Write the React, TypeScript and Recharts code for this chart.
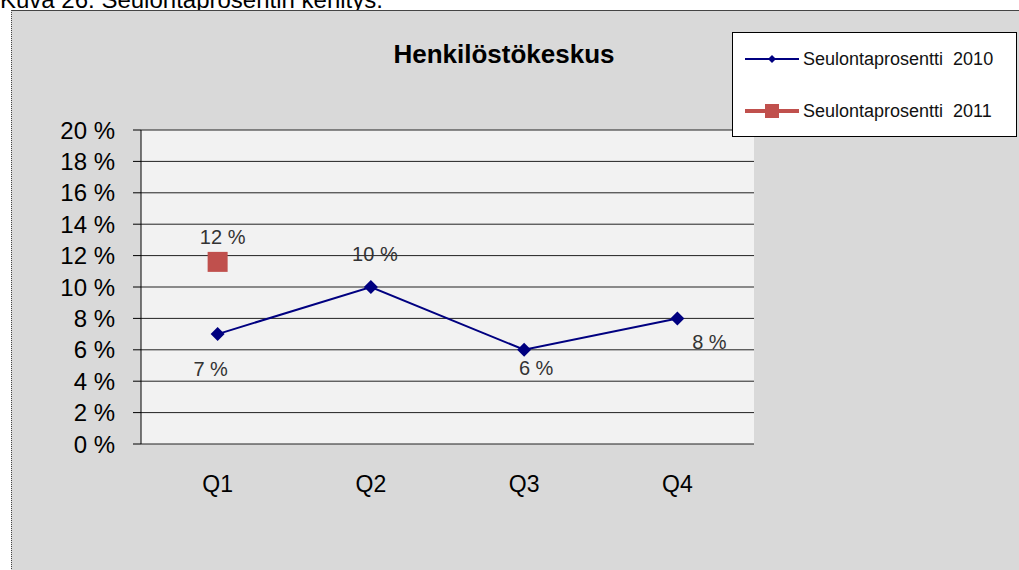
import React from 'react';
import { LineChart, Line, XAxis, YAxis, CartesianGrid, Legend, LabelList } from 'recharts';

const QUARTERS = ['Q1', 'Q2', 'Q3', 'Q4'];
const RATE_2010 = [7, 10, 6, 8];
const RATE_2011: (number | null)[] = [11.6, null, null, null];
const Y_TICKS = [0, 2, 4, 6, 8, 10, 12, 14, 16, 18, 20];

const NAME_2010 = 'Seulontaprosentti  2010';
const NAME_2011 = 'Seulontaprosentti  2011';

const COLOR_2010 = '#000080';
const COLOR_2011 = '#c0504d';
const FONT = '"Liberation Sans", Arial, sans-serif';

// where each value label sits relative to its point
const LABEL_SHIFT_2010 = [
  { dx: -7, dy: 35 },
  { dx: 4, dy: -33 },
  { dx: 12, dy: 18 },
  { dx: 32, dy: 24 },
];
const LABEL_SHIFT_2011 = [{ dx: 5, dy: -25 }];

const chartData = QUARTERS.map((quarter, i) => ({
  quarter,
  y2010: RATE_2010[i],
  y2011: RATE_2011[i],
}));

const edgeTicks = QUARTERS.map((_, i) => i).concat(QUARTERS.length);

const fmtPct = (v: number) => `${Math.round(v)} %`;

function makeLabel(shifts: { dx: number; dy: number }[]) {
  return (props: any) => {
    const { x, y, value, index } = props;
    if (value == null || x == null || y == null) return null;
    const s = shifts[index] || { dx: 0, dy: -20 };
    return (
      <text
        x={Number(x) + s.dx}
        y={Number(y) + s.dy}
        textAnchor="middle"
        dominantBaseline="central"
        fontSize={20}
        fontFamily={FONT}
        fill="#333"
      >
        {fmtPct(Number(value))}
      </text>
    );
  };
}

const DiamondDot = (props: any) => {
  const { cx, cy, index } = props;
  if (cx == null || cy == null) return <g key={`d-${index}`} />;
  const r = 7;
  return (
    <path
      key={`d-${index}`}
      d={`M${cx},${cy - r}L${cx + r},${cy}L${cx},${cy + r}L${cx - r},${cy}Z`}
      fill={COLOR_2010}
    />
  );
};

const SquareDot = (props: any) => {
  const { cx, cy, index } = props;
  if (cx == null || cy == null) return <g key={`s-${index}`} />;
  const h = 10;
  return <rect key={`s-${index}`} x={cx - h} y={cy - h} width={h * 2} height={h * 2} fill={COLOR_2011} />;
};

const LegendBox = () => (
  <div
    style={{
      width: 285,
      height: 105,
      boxSizing: 'border-box',
      border: '1px solid #000',
      background: '#fff',
      position: 'relative',
      fontFamily: FONT,
      fontSize: 18,
      color: '#111',
    }}
  >
    {[
      { name: NAME_2010, color: COLOR_2010, width: 2, marker: 'diamond', cy: 26 },
      { name: NAME_2011, color: COLOR_2011, width: 4, marker: 'square', cy: 78 },
    ].map((item) => (
      <div key={item.name} style={{ position: 'absolute', left: 0, top: item.cy - 12, height: 24, width: '100%' }}>
        <svg width={70} height={24} style={{ position: 'absolute', left: 10, top: 0 }}>
          <line x1={2} y1={12} x2={56} y2={12} stroke={item.color} strokeWidth={item.width} />
          {item.marker === 'diamond' ? (
            <path d="M29,8L33,12L29,16L25,12Z" fill={item.color} />
          ) : (
            <rect x={22} y={5} width={14} height={14} fill={item.color} />
          )}
        </svg>
        <span style={{ position: 'absolute', left: 70, top: 0, lineHeight: '24px', whiteSpace: 'pre' }}>{item.name}</span>
      </div>
    ))}
  </div>
);

export default function App() {
  return (
    <div
      style={{
        position: 'absolute',
        left: 0,
        top: 0,
        width: 1019,
        height: 570,
        overflow: 'hidden',
        background: '#fff',
        fontFamily: FONT,
      }}
    >
      <div
        style={{
          position: 'absolute',
          left: 0,
          top: -12,
          fontSize: 24,
          lineHeight: '24px',
          whiteSpace: 'nowrap',
          color: '#000',
        }}
      >
        Kuva 26. Seulontaprosentin kehitys.
      </div>
      <div
        style={{
          position: 'absolute',
          left: 11,
          top: 10,
          width: 1100,
          height: 700,
          background: '#d9d9d9',
          borderTop: '1px solid #444',
          borderLeft: '1px dotted #444',
        }}
      />
      <div
        style={{
          position: 'absolute',
          left: 504,
          top: 41,
          transform: 'translateX(-50%)',
          fontSize: 26,
          lineHeight: '26px',
          fontWeight: 'bold',
          whiteSpace: 'nowrap',
          color: '#000',
        }}
      >
        Henkilöstökeskus
      </div>
      <div style={{ position: 'absolute', left: 0, top: 0 }}>
        <LineChart
          width={1019}
          height={570}
          data={chartData}
          margin={{ top: 130, right: 265, left: 81, bottom: 76 }}
        >
          <CartesianGrid
            xAxisId="cat"
            yAxisId="v"
            vertical={false}
            fill="#f2f2f2"
            stroke="#222"
          />
          <XAxis
            xAxisId="edge"
            type="number"
            domain={[0, QUARTERS.length]}
            ticks={edgeTicks}
            height={0}
            tickSize={8}
            tickFormatter={() => ''}
            axisLine={{ stroke: '#000' }}
            tickLine={{ stroke: '#000' }}
          />
          <XAxis
            xAxisId="cat"
            dataKey="quarter"
            scale="band"
            height={50}
            axisLine={false}
            tickLine={false}
            tickSize={8}
            tickMargin={24}
            tick={{ fontSize: 23, fill: '#000', fontFamily: FONT }}
          />
          <YAxis
            yAxisId="v"
            domain={[0, 20]}
            ticks={Y_TICKS}
            width={60}
            tickSize={8}
            tickMargin={18}
            tickFormatter={(v: number) => `${v} %`}
            axisLine={{ stroke: '#000' }}
            tickLine={{ stroke: '#000' }}
            tick={{ fontSize: 24, fill: '#000', fontFamily: FONT }}
            interval={0}
          />
          <YAxis
            yAxisId="edge"
            orientation="right"
            width={0}
            tick={false}
            tickLine={false}
            axisLine={{ stroke: '#868686' }}
          />
          <Legend
            layout="horizontal"
            verticalAlign="middle"
            align="center"
            content={() => <LegendBox />}
            wrapperStyle={{ left: 732, top: 32, width: 285, height: 105 }}
          />
          <Line
            xAxisId="cat"
            yAxisId="v"
            dataKey="y2010"
            name={NAME_2010}
            stroke={COLOR_2010}
            strokeWidth={2}
            dot={DiamondDot}
            activeDot={false}
            isAnimationActive={false}
          >
            <LabelList dataKey="y2010" content={makeLabel(LABEL_SHIFT_2010)} />
          </Line>
          <Line
            xAxisId="cat"
            yAxisId="v"
            dataKey="y2011"
            name={NAME_2011}
            stroke={COLOR_2011}
            strokeWidth={4}
            dot={SquareDot}
            activeDot={false}
            isAnimationActive={false}
          >
            <LabelList dataKey="y2011" content={makeLabel(LABEL_SHIFT_2011)} />
          </Line>
        </LineChart>
      </div>
    </div>
  );
}
